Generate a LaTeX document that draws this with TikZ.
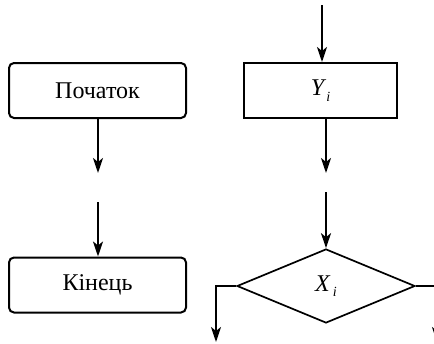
\documentclass[tikz,border=0pt]{standalone}
\usepackage{fontspec}
\setmainfont{Liberation Serif}
\usetikzlibrary{shapes.geometric,arrows.meta}

\tikzset{
  txt/.style={font=\fontsize{24}{28}\selectfont},
  terminal/.style={draw, txt, rounded corners=5pt, minimum width=177pt, minimum height=55pt, inner sep=0pt},
  process/.style={draw, txt, minimum width=153pt, minimum height=55pt, inner sep=0pt},
  decision/.style={draw, txt, diamond, minimum width=178pt, minimum height=74pt, inner sep=0pt},
  flow/.style={-{Stealth[length=15pt,width=10pt,inset=4pt]}}
}

\newcommand{\subidx}[2]{\textit{#1}\raisebox{-0.5ex}{\fontsize{14}{16}\selectfont\textit{#2}}}

\begin{document}
\begin{tikzpicture}[x=1pt, y=-1pt, line width=2pt]
  \useasboundingbox (0,0) rectangle (434,343);

  % left column: start and end terminals
  \node[terminal] (start) at (97.5,90.5) {Початок};
  \node[terminal] (stop)  at (97.5,285)  {Кінець};
  \coordinate (s1) at (98,173);
  \coordinate (s2) at (98,202);
  \draw[flow] (start.south -| s1) -- (s1);
  \draw[flow] (s2) -- (s2 |- stop.north);

  % right column: process block and decision
  \node[process]  (proc) at (320.5,90.5) {\subidx{Y}{i}};
  \node[decision, line width=1.7pt] (dec) at (326,286) {\subidx{X}{\,i}};
  \coordinate (in)  at (322,5);
  \coordinate (p1)  at (326,173);
  \coordinate (p2)  at (326,192);
  \draw[flow] (in) -- (in |- proc.north);
  \draw[flow] (proc.south -| p1) -- (p1);
  \draw[flow] (p2) -- (dec.north);

  % decision branches
  \coordinate (lb) at (216,342);
  \draw[flow] (dec.west) -- (lb |- dec.west) -- (lb);
  \begin{scope}
    \clip (0,0) rectangle (434,343);
    \coordinate (rb) at (437,342);
    \draw[flow] (dec.east) -- (rb |- dec.east) -- (rb);
  \end{scope}
\end{tikzpicture}
\end{document}
